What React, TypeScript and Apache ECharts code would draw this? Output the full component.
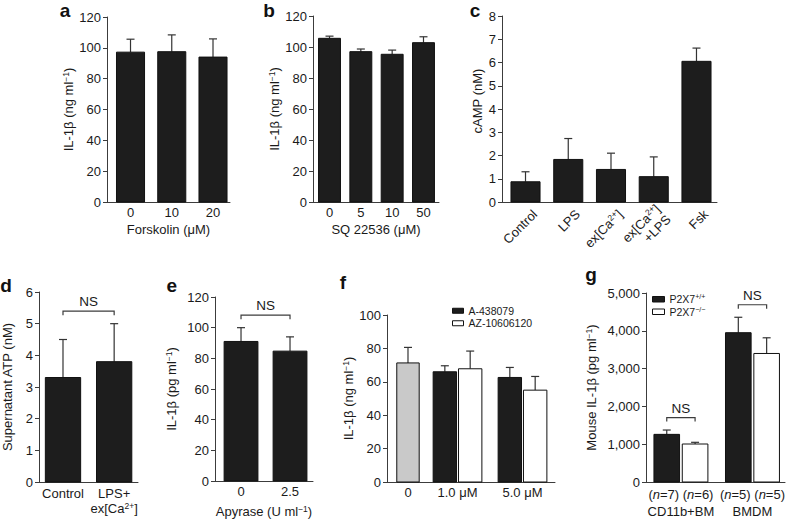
import React, { useEffect, useRef } from 'react';
import * as echarts from 'echarts';

// ---------------- data ----------------
const forskolinDoses = ['0', '10', '20'];
const forskolinIL1b = [97.2, 97.5, 94];
const forskolinErr = [8.4, 10.9, 11.8];

const sqDoses = ['0', '5', '10', '50'];
const sqIL1b = [105.6, 97, 95.3, 102.8];
const sqErr = [1.4, 1.7, 2.7, 3.8];

const campGroups = ['Control', 'LPS', 'ex[Ca2+]', 'ex[Ca2+]\n+LPS', 'Fsk'];
const campValues = [0.87, 1.83, 1.4, 1.09, 6.05];
const campErr = [0.43, 0.9, 0.7, 0.85, 0.57];

const atpGroups = ['Control', 'LPS+\nex[Ca2+]'];
const atpValues = [3.3, 3.8];
const atpErr = [1.2, 1.2];

const apyraseDoses = ['0', '2.5'];
const apyraseIL1b = [91, 84.7];
const apyraseErr = [9, 9.3];

const antagonistDoses = ['0', '1.0 μM', '5.0 μM'];
const antagonistNames = ['A-438079', 'AZ-10606120'];
const vehicleIL1b = [71.3];
const vehicleErr = [9.3];
const a438079IL1b = [66, 62.6];
const a438079Err = [3.6, 6];
const az10606120IL1b = [67.8, 55];
const az10606120Err = [10.6, 8.2];

const cellTypes = ['CD11b+BM', 'BMDM'];
const genotypeNames = ['P2X7+/+', 'P2X7−/−'];
const wildTypeIL1b = [1260, 3950];
const wildTypeErr = [115, 408];
const knockoutIL1b = [1005, 3400];
const knockoutErr = [45, 415];
const wildTypeN = ['7', '5'];
const knockoutN = ['6', '5'];

// ---------------- styling ----------------
const FONT = '"Liberation Sans", Arial, Helvetica, sans-serif';
const INK = '#1a1a1a';
const AXIS = '#3c3c3c';
const BLACK = '#1d1d1d';
const GRAY = '#c9c9c9';
const WHITE = '#ffffff';

const RICH: any = {
  t: { fontSize: 13, fontFamily: FONT, color: INK, lineHeight: 15 },
  s: { fontSize: 8.5, fontFamily: FONT, color: INK, lineHeight: 8, verticalAlign: 'top' },
  i: { fontSize: 13, fontFamily: FONT, color: INK, lineHeight: 15, fontStyle: 'italic' },
};

const toRich = (s: string) =>
  s
    .split('\n')
    .map((line) => `{t|${line.replace('Ca2+', 'Ca}{s|2+}{t|')}}`)
    .join('\n');

const IL_NG = '{t|IL-1β (ng ml}{s|−1}{t|)}';
const IL_PG = '{t|IL-1β (pg ml}{s|−1}{t|)}';
const MOUSE_PG = '{t|Mouse IL-1β (pg ml}{s|−1}{t|)}';

const idx = (arr: any[]) => arr.map((_, i) => i);

function buildOption() {
  const grids: any[] = [];
  const xAxes: any[] = [];
  const yAxes: any[] = [];
  const series: any[] = [];

  const labelStyle = { color: INK, fontSize: 13, fontFamily: FONT };

  function panel(cfg: any) {
    const gi = grids.length;
    grids.push({ left: cfg.box[0], top: cfg.box[1], width: cfg.box[2], height: cfg.box[3] });
    const xi = xAxes.length;
    const at: number[] = cfg.labels.at;
    xAxes.push({
      type: 'value',
      gridIndex: gi,
      min: cfg.x[0],
      max: cfg.x[1],
      position: 'bottom',
      axisLine: { show: true, onZero: false, lineStyle: { color: AXIS, width: 1 } },
      axisTick: { show: false },
      splitLine: { show: false },
      axisLabel: {
        ...labelStyle,
        customValues: at,
        margin: cfg.labels.margin,
        rotate: cfg.labels.rotate || 0,
        showMinLabel: true,
        showMaxLabel: true,
        hideOverlap: false,
        rich: RICH,
        formatter: (v: number) => {
          const k = at.findIndex((a) => Math.abs(a - v) < 1e-3);
          return k < 0 ? '' : cfg.labels.fmt ? cfg.labels.fmt(k) : toRich(cfg.labels.text[k]);
        },
      },
      name: cfg.xName ? cfg.xName.text : '',
      nameLocation: 'middle',
      nameGap: cfg.xName ? cfg.xName.gap : 0,
      nameMoveOverlap: false,
      nameTextStyle: { ...labelStyle, rich: RICH },
    });
    const yi = yAxes.length;
    yAxes.push({
      type: 'value',
      gridIndex: gi,
      min: 0,
      max: cfg.y.max,
      interval: cfg.y.step,
      axisLine: { show: true, onZero: false, lineStyle: { color: AXIS, width: 1 } },
      axisTick: { show: true, length: 4, lineStyle: { color: AXIS, width: 1 } },
      splitLine: { show: false },
      axisLabel: { ...labelStyle, margin: 6, formatter: cfg.y.fmt },
      name: cfg.y.name || '',
      nameLocation: 'middle',
      nameRotate: 90,
      nameGap: cfg.y.gap || 0,
      nameMoveOverlap: false,
      nameTextStyle: { ...labelStyle, rich: RICH },
    });
    return { gi, xi, yi };
  }

  function bars(p: any, name: string, xs: number[], vals: number[], errs: number[], w: number, fill: string) {
    series.push({
      type: 'custom',
      name,
      xAxisIndex: p.xi,
      yAxisIndex: p.yi,
      itemStyle: { color: fill, borderColor: '#111', borderWidth: 1 },
      data: vals.map((v, i) => [xs[i], v, errs[i]]),
      renderItem: (_params: any, api: any) => {
        const x = api.value(0);
        const v = api.value(1);
        const e = api.value(2);
        const tl = api.coord([x - w / 2, v]);
        const br = api.coord([x + w / 2, 0]);
        const cx = api.coord([x, v])[0];
        const et = api.coord([x, v + e])[1];
        return {
          type: 'group',
          children: [
            { type: 'line', shape: { x1: cx, y1: tl[1], x2: cx, y2: et }, style: { stroke: '#333', lineWidth: 1.2 } },
            { type: 'line', shape: { x1: cx - 4, y1: et, x2: cx + 4, y2: et }, style: { stroke: '#333', lineWidth: 1.2 } },
            {
              type: 'rect',
              shape: { x: tl[0], y: tl[1], width: br[0] - tl[0], height: br[1] - tl[1] },
              style: { fill, stroke: '#111', lineWidth: 1 },
            },
          ],
        };
      },
    });
  }

  function bracket(p: any, x1: number, x2: number, top: number) {
    series.push({
      type: 'custom',
      name: 'NS',
      xAxisIndex: p.xi,
      yAxisIndex: p.yi,
      data: [[x1, x2, top]],
      renderItem: (_params: any, api: any) => {
        const a = api.coord([api.value(0), api.value(2)]);
        const b = api.coord([api.value(1), api.value(2)]);
        const y = a[1] - 12.5;
        return {
          type: 'group',
          children: [
            {
              type: 'polyline',
              shape: { points: [[a[0], y + 4], [a[0], y], [b[0], y], [b[0], y + 4]] },
              style: { stroke: AXIS, fill: 'none', lineWidth: 1.2 },
            },
            {
              type: 'text',
              x: (a[0] + b[0]) / 2,
              y: y - 9.5,
              style: { text: 'NS', align: 'center', verticalAlign: 'middle', fontSize: 13.5, fontFamily: FONT, fill: INK },
            },
          ],
        };
      },
    });
  }

  const maxTop = (vals: number[], errs: number[]) => Math.max(...vals.map((v, i) => v + errs[i]));

  // a
  const A = panel({
    box: [107, 17, 123, 185], x: [-0.57, 2.412],
    y: { max: 120, step: 20, name: IL_NG, gap: 31 },
    labels: { at: idx(forskolinDoses), text: forskolinDoses, margin: 3 },
    xName: { text: '{t|Forskolin (μM)}', gap: 20 },
  });
  bars(A, 'Forskolin', idx(forskolinDoses), forskolinIL1b, forskolinErr, 0.68, BLACK);

  // b
  const B = panel({
    box: [313, 16, 126, 186], x: [-0.527, 3.495],
    y: { max: 120, step: 20, name: IL_NG, gap: 31 },
    labels: { at: idx(sqDoses), text: sqDoses, margin: 3 },
    xName: { text: '{t|SQ 22536 (μM)}', gap: 20 },
  });
  bars(B, 'SQ 22536', idx(sqDoses), sqIL1b, sqErr, 0.7, BLACK);

  // c (axis title drawn as a graphic text below)
  const C = panel({
    box: [502, 16, 215, 186], x: [-0.55, 4.48],
    y: { max: 8, step: 1 },
    labels: { at: idx(campGroups).map((i) => i + 0.22), text: campGroups, margin: 10, rotate: 45 },
  });
  bars(C, 'cAMP', idx(campGroups), campValues, campErr, 0.68, BLACK);

  // d
  const D = panel({
    box: [37, 292, 101, 190], x: [-0.469, 1.466],
    y: { max: 6, step: 1, name: '{t|Supernatant ATP (nM)}', gap: 24 },
    labels: { at: idx(atpGroups), text: atpGroups, margin: 4 },
  });
  bars(D, 'ATP', idx(atpGroups), atpValues, atpErr, 0.69, BLACK);
  bracket(D, 0, 1, maxTop(atpValues, atpErr));

  // e
  const E = panel({
    box: [215, 297, 98, 184], x: [-0.531, 1.469],
    y: { max: 120, step: 20, name: IL_PG, gap: 36 },
    labels: { at: idx(apyraseDoses), text: apyraseDoses, margin: 3 },
    xName: { text: '{t|Apyrase (U ml}{s|−1}{t|)}', gap: 23 },
  });
  bars(E, 'Apyrase', idx(apyraseDoses), apyraseIL1b, apyraseErr, 0.69, BLACK);
  bracket(E, 0, 1, maxTop(apyraseIL1b, apyraseErr));

  // f
  const fSlots = [0.238, 1, 2];
  const fOff = 0.195;
  const F = panel({
    box: [387, 315, 168, 167], x: [-0.085, 2.5],
    y: { max: 100, step: 20, name: IL_NG, gap: 31 },
    labels: { at: fSlots, text: antagonistDoses, margin: 3 },
  });
  bars(F, 'Vehicle', [fSlots[0]], vehicleIL1b, vehicleErr, 0.345, GRAY);
  bars(F, antagonistNames[0], fSlots.slice(1).map((s) => s - fOff), a438079IL1b, a438079Err, 0.36, BLACK);
  bars(F, antagonistNames[1], fSlots.slice(1).map((s) => s + fOff), az10606120IL1b, az10606120Err, 0.36, WHITE);

  // g
  const gOff = 0.198;
  const nOff = 0.24;
  const gGroups = idx(cellTypes);
  const nPos: number[] = [];
  const nText: string[] = [];
  gGroups.forEach((g) => {
    nPos.push(g - nOff, g + nOff);
    nText.push(wildTypeN[g], knockoutN[g]);
  });
  const G = panel({
    box: [646, 293, 141, 189], x: [-0.488, 1.455],
    y: { max: 5000, step: 1000, name: MOUSE_PG, gap: 47, fmt: (v: number) => v.toLocaleString('en-US') },
    labels: { at: nPos, text: nText, margin: 5, fmt: (k: number) => `{t|(}{i|n}{t|=${nText[k]})}` },
  });
  xAxes.push({
    type: 'value', gridIndex: G.gi, min: -0.488, max: 1.455, position: 'bottom',
    axisLine: { show: false }, axisTick: { show: false }, splitLine: { show: false },
    axisLabel: {
      ...labelStyle, customValues: gGroups, margin: 23, showMinLabel: true, showMaxLabel: true,
      formatter: (v: number) => cellTypes[Math.round(v)] ?? '',
    },
  });
  bars(G, genotypeNames[0], gGroups.map((g) => g - gOff), wildTypeIL1b, wildTypeErr, 0.358, BLACK);
  bars(G, genotypeNames[1], gGroups.map((g) => g + gOff), knockoutIL1b, knockoutErr, 0.358, WHITE);
  gGroups.forEach((g) => {
    bracket(G, g - gOff, g + gOff, Math.max(wildTypeIL1b[g] + wildTypeErr[g], knockoutIL1b[g] + knockoutErr[g]));
  });

  const letters: [string, number, number][] = [
    ['a', 65, 10.5], ['b', 269, 10.5], ['c', 475, 10.5], ['d', 6, 285], ['e', 171.7, 285], ['f', 343, 282.7], ['g', 591, 274],
  ];

  const legendText = { fontSize: 10.5, fontFamily: FONT, color: INK, lineHeight: 12.5 };

  return {
    animation: false,
    backgroundColor: '#fff',
    textStyle: { fontFamily: FONT },
    grid: grids,
    xAxis: xAxes,
    yAxis: yAxes,
    series,
    legend: [
      {
        data: antagonistNames.map((n, i) => ({
          name: n, icon: 'rect',
          itemStyle: { color: i ? WHITE : BLACK, borderColor: '#111', borderWidth: 1 },
        })),
        orient: 'vertical', left: 452, top: 304.5, itemWidth: 11, itemHeight: 5, itemGap: 0, padding: 0,
        selectedMode: false, textStyle: legendText,
      },
      {
        data: genotypeNames.map((n, i) => ({
          name: n, icon: 'rect',
          itemStyle: { color: i ? WHITE : BLACK, borderColor: '#111', borderWidth: 1 },
        })),
        orient: 'vertical', left: 652, top: 293, itemWidth: 12, itemHeight: 5.5, itemGap: 0, padding: 0,
        selectedMode: false,
        formatter: (name: string) => `{t|${name.slice(0, 4)}}{s|${name.slice(4)}}`,
        textStyle: {
          ...legendText,
          rich: {
            t: { ...legendText },
            s: { fontSize: 7, fontFamily: FONT, color: INK, lineHeight: 6, verticalAlign: 'top' },
          },
        },
      },
    ],
    graphic: [
      ...letters.map(([ch, x, y]) => ({
        type: 'text', x, y,
        style: { text: ch, fontSize: 19, fontWeight: 'bold', fontFamily: FONT, fill: '#111', align: 'center', verticalAlign: 'middle' },
      })),
      {
        type: 'text', x: 477, y: 101, rotation: Math.PI / 2,
        style: { text: 'cAMP (nM)', fontSize: 13, fontFamily: FONT, fill: INK, align: 'center', verticalAlign: 'middle' },
      },
    ],
  };
}

export default function App() {
  const ref = useRef<HTMLDivElement>(null);
  useEffect(() => {
    const chart = echarts.init(ref.current!, null, { renderer: 'svg' });
    chart.setOption(buildOption() as any);
    return () => chart.dispose();
  }, []);
  return (
    <div
      ref={ref}
      style={{ position: 'fixed', left: 0, top: 0, width: 788, height: 520, background: '#fff' }}
    />
  );
}
